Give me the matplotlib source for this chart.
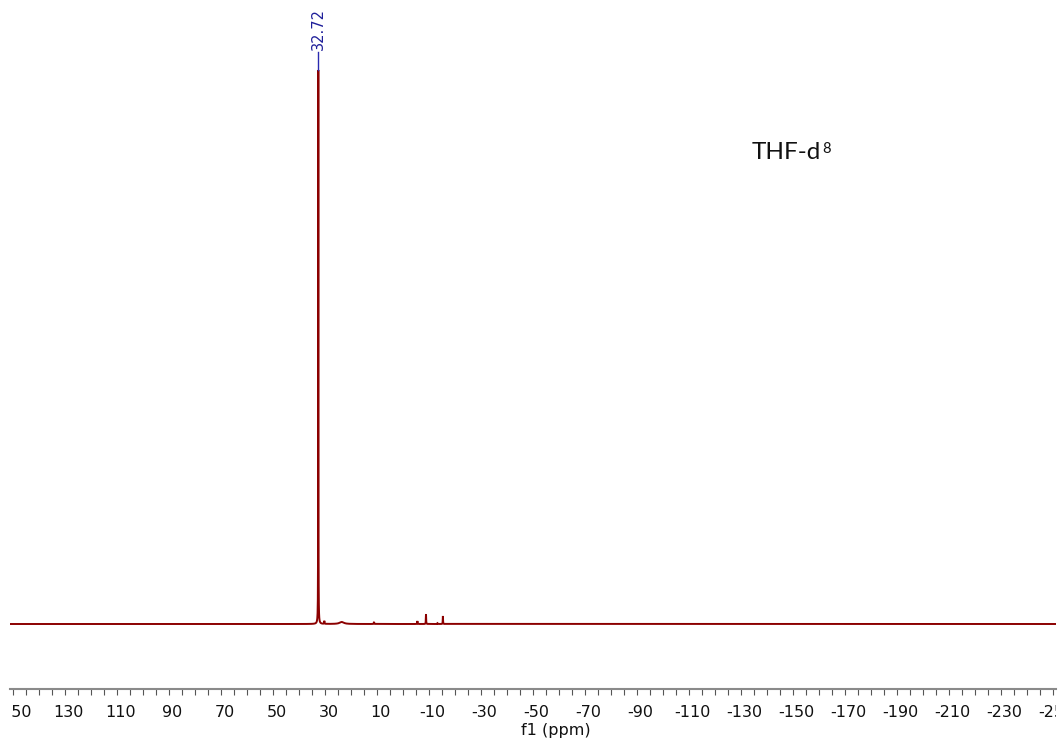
import numpy as np
import matplotlib
matplotlib.use('Agg')
import matplotlib.pyplot as plt
from matplotlib.ticker import MultipleLocator, FixedLocator
from matplotlib.transforms import ScaledTranslation, TransformedBbox, Bbox

plt.rcParams['axes.unicode_minus'] = False
plt.rcParams['font.family'] = ['DejaVu Sans']

# ---- data ----
peak_ppm = [32.72, 30.4, 23.7, 11.3, -5.4, -8.7, -13.1, -15.2]
peak_height = [1.0, 0.0055, 0.0036, 0.0036, 0.0054, 0.018, 0.0015, 0.0145]
peak_width = [0.08, 0.15, 2.0, 0.2, 0.15, 0.12, 0.15, 0.12]
label_ppm = 32.72
label_text = "32.72"
ppm_left, ppm_right = 151.3, -251.0
tick_labels_ppm = list(range(150, -251, -20))
solvent = "THF-d"
solvent_sup = "8"

W, H = 1060, 740
fig = plt.figure(figsize=(W / 100, H / 100), dpi=100)
ax = fig.add_axes([10 / W, 51 / H, 1046 / W, 689 / H])

ppm = np.union1d(np.linspace(ppm_right, ppm_left, 200001), peak_ppm)
intensity = np.zeros_like(ppm)
for c, h, w in zip(peak_ppm, peak_height, peak_width):
    hw = w / 2.0
    intensity += h * hw ** 2 / ((ppm - c) ** 2 + hw ** 2)

ax.plot(ppm, intensity, color='#8b0000', lw=1.4, solid_joinstyle='miter')
ax.set_xlim(ppm_left, ppm_right)
ax.set_ylim(-65 / 554, 1 + 70 / 554)

for s in ['top', 'left', 'right']:
    ax.spines[s].set_visible(False)
ax.spines['bottom'].set_color('#8a8a8a')
ax.spines['bottom'].set_linewidth(1.5)
ax.set_yticks([])
ax.patch.set_visible(False)

ax.xaxis.set_major_locator(FixedLocator(tick_labels_ppm))
ax.xaxis.set_minor_locator(MultipleLocator(5))
ax.tick_params(axis='x', which='both', direction='out', length=4.5, width=0.8,
               color='#555555', labelsize=11.5, pad=7, labelcolor='#111111')

# peak label
ax.plot([label_ppm, label_ppm], [1.0, 1.0325], color='#2a2ab0', lw=1.0)
ax.text(label_ppm, 1.0361, label_text, rotation=90, ha='center', va='bottom',
        color='#1f1f9a', fontsize=10.5)

# axis title
fig.text(556 / W, 1 - 730 / H, 'f1 (ppm)', ha='center', va='center',
         fontsize=11.5, color='#111111')

# solvent text
t = fig.text(752 / W, 1 - 159.3 / H, solvent, ha='left', va='baseline',
             fontsize=17.5, family=['Lato', 'DejaVu Sans'], color='#111111')
ax.annotate(solvent_sup, xy=(1, 1), xycoords=t, xytext=(1, 0),
            textcoords='offset pixels', ha='left', va='top', fontsize=10.5,
            family=['Lato', 'DejaVu Sans'], color='#111111',
            annotation_clip=False)

# clip tick labels to the axis extent and shift slightly right (as in reference)
clipbox = TransformedBbox(Bbox([[1.8 / 1046, -1], [1, 2]]), ax.transAxes)
off = ScaledTranslation(0.03, 0, fig.dpi_scale_trans)
for lab in ax.get_xticklabels():
    lab.set_clip_box(clipbox)
    lab.set_clip_on(True)
    lab.set_transform(lab.get_transform() + off)

fig.savefig('out.png', dpi=100)
